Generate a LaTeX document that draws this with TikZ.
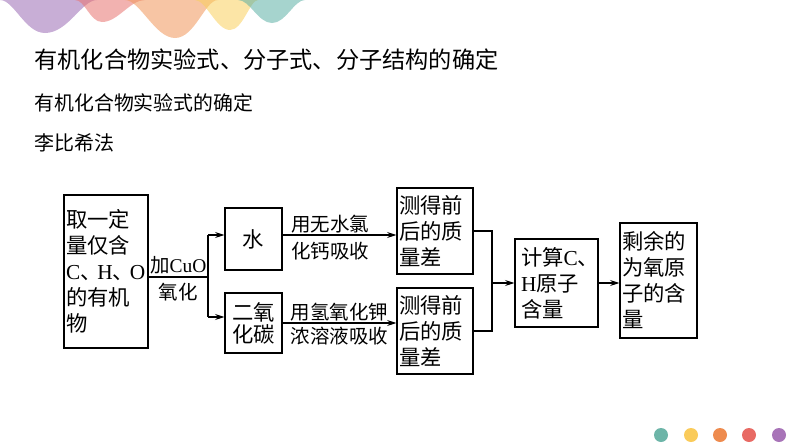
\documentclass[tikz,border=0pt]{standalone}
\usepackage{fontspec}
\setmainfont{Noto Sans CJK SC}
\newfontfamily\latin{Liberation Serif}
\usetikzlibrary{arrows.meta}
\definecolor{wpurple}{HTML}{9B6BB5}
\definecolor{wpink}{HTML}{E8736F}
\definecolor{worange}{HTML}{F0965A}
\definecolor{wyellow}{HTML}{F9CF5C}
\definecolor{wteal}{HTML}{5DB0A5}
\definecolor{dteal}{HTML}{6DB5A8}
\definecolor{dyellow}{HTML}{FACB5A}
\definecolor{dorange}{HTML}{EE8B4E}
\definecolor{dred}{HTML}{E86A64}
\definecolor{dpurple}{HTML}{A874B8}
\newcommand{\dun}{\hbox to 0.8em{、\hss}}

\begin{document}
\begin{tikzpicture}[x=0.75pt,y=-0.75pt,line width=0.9pt,
    >={Stealth[length=7pt,width=4.5pt]},
    box/.style={draw,inner xsep=1.5pt,inner ysep=0pt,align=left,
      font=\fontsize{16}{19.5}\selectfont},
    lbl/.style={font=\fontsize{14.6}{17}\selectfont,inner sep=1pt},
    heading/.style={anchor=west,inner sep=0pt}]
  \path[use as bounding box] (0,0) rectangle (794,447);

  % waves at the top
  \fill[wpurple,opacity=.55] (0,0) .. controls (14,0) and (25,33) .. (45,33) .. controls (68,33) and (82,0) .. (97,0) -- cycle;
  \fill[wpink,opacity=.55] (75,0) .. controls (85,0) and (90,22) .. (102,22) .. controls (118,22) and (130,0) .. (145,0) -- cycle;
  \fill[worange,opacity=.55] (125,0) .. controls (140,0) and (155,38) .. (175,38) .. controls (195,38) and (205,0) .. (218,0) -- cycle;
  \fill[wyellow,opacity=.55] (195,0) .. controls (206,0) and (216,30) .. (230,30) .. controls (243,30) and (250,0) .. (258,0) -- cycle;
  \fill[wteal,opacity=.55] (238,0) .. controls (250,0) and (258,23) .. (272,23) .. controls (286,23) and (294,0) .. (305,0) -- cycle;

  % headings
  \node[heading,font=\fontsize{17.4}{20}\selectfont] (title) at (34,60) {有机化合物实验式、分子式、分子结构的确定};
  \node[heading,font=\fontsize{14.9}{18}\selectfont] (sub) at (34,103) {有机化合物实验式的确定};
  \node[heading,font=\fontsize{15}{18}\selectfont] (method) at (34,143) {李比希法};

  % boxes
  \node[box,text width=60pt,minimum height=114.75pt] (src) at (106,271.5)
    {取一定\\量仅含\\{\latin C}\dun{\latin H}\dun{\latin O}\\的有机\\物};
  \node[box,align=center,text width=39.75pt,minimum height=46.5pt] (water) at (253.5,239) {水};
  \node[box,align=center,text width=39.75pt,minimum height=45pt,
    font=\fontsize{16}{16.5}\selectfont] (co2) at (253.5,323) {二氧\\化碳};
  \node[box,text width=54pt,minimum height=64.5pt] (m1) at (435,231) {测得前\\后的质\\量差};
  \node[box,text width=54pt,minimum height=64.5pt] (m2) at (435,331) {测得前\\后的质\\量差};
  \node[box,inner xsep=4.5pt,text width=53.25pt,minimum height=66pt] (calc) at (556.5,283)
    {计算{\latin C}、\\{\latin H}原子\\含量};
  \node[box,text width=54.75pt,minimum height=86.25pt] (rest) at (658.5,280.5)
    {剩余的\\为氧原\\子的含\\量};

  % connectors
  \coordinate (fork) at (208,277);
  \coordinate (forkup) at (208,235);
  \coordinate (forkdn) at (208,317);
  \coordinate (join) at (492,283);
  \draw (src.east |- fork) -- node[lbl,above,inner sep=2pt] {加{\latin CuO}}
    node[lbl,below,inner sep=4pt] {氧化} (fork);
  \draw (forkup) -- (forkdn);
  \path[->]
    (forkup) edge (forkup -| water.west)
    (forkdn) edge (forkdn -| co2.west)
    (water.east |- forkup) edge node[lbl,above,pos=.42] {用无水氯}
      node[lbl,below,pos=.42,inner sep=5pt] {化钙吸收} (m1.west |- forkup)
    (co2.east) edge node[lbl,above] {用氢氧化钾}
      node[lbl,below,inner sep=2.5pt] {浓溶液吸收} (co2.east -| m2.west);
  \draw (m1.east) -| (join) |- (m2.east);
  \draw[->] (join) -- (join -| calc.west);
  \draw[->] (calc.east) -- (calc.east -| rest.west);

  % dots at the bottom
  \fill[dteal] (661,435) circle (7);
  \fill[dyellow] (691,435) circle (7);
  \fill[dorange] (720,435) circle (7);
  \fill[dred] (749,435) circle (7);
  \fill[dpurple] (779,435) circle (7);
\end{tikzpicture}
\end{document}
